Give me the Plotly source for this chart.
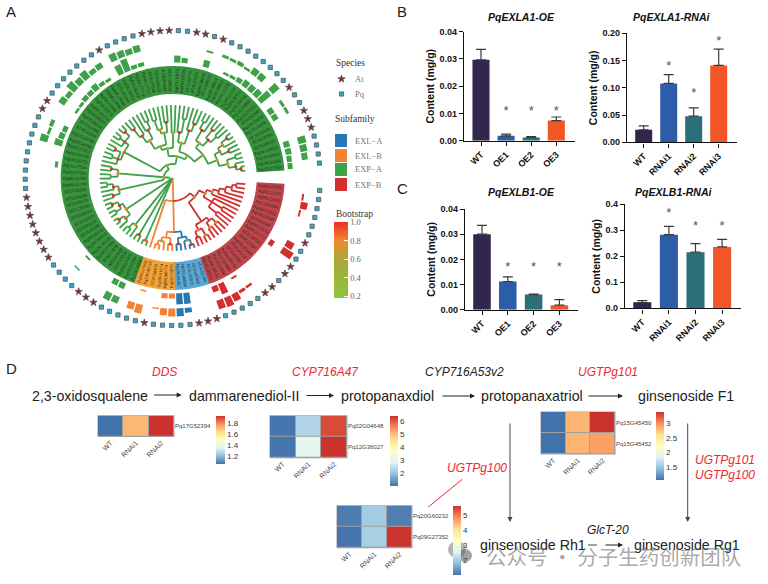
import math
import plotly.graph_objects as go

W, H = 768, 584
def X(p): return p / W
def Y(p): return 1 - p / H

# ---------- Panel A data ----------
leaf_labels = [
 "Pq15G27566","Pq14G41444","Pq14G40058","Pq14G40056","AT2G40610","AT2G39700","AT3G55500","Pq13G30476","Pq13G30478","AT5G02260",
 "Pq12G25112","Pq12G24880","Pq11G18754","Pq11G18752","Pq10G11230","Pq10G11228","Pq09G38812","Pq09G38814","AT1G69530","Pq08G30010",
 "AT3G15370","AT1G26770","Pq07G20156","Pq07G20154","AT2G28950","AT2G03090","AT5G56320","AT2G37640","Pq06G17712","Pq06G17714",
 "Pq05G36328","Pq05G36330","AT5G05290","Pq04G29940","Pq04G29942","Pq04G12086","Pq03G33172","Pq03G33174","Pq03G08216","Pq03G08218",
 "AT1G62980","AT4G01630","Pq02G44780","Pq02G44782","Pq02G15932","Pq01G56730","Pq01G56732","Pq01G27560","Pq01G27562","Pq06G31192",
 "Pq06G31190","AT5G39280","AT5G39290","AT5G39270","AT5G39300","AT5G39310","AT3G60570","AT3G03220","AT1G20190","Pq20G46122",
 "Pq20G46124","Pq19G38218","Pq18G27906","AT4G17030","AT1G65680","AT4G28250","Pq16G25102","Pq15G10284","Pq15G10286",
 "Pq06G11903","Pq23G46132","AT4G38400","Pq19G11174","Pq08G09774","Pq05G33870",
 "Pq20G44567","Pq22G46080","AT3G45970","AT3G45960","AT5G05280",
 "Pq16G28530","Pq16G28532","Pq11G23804","Pq11G23806","Pq10G09118","AT1G65681","AT2G45110","Pq07G35460","AT4G21080","AT2G20750",
 "Pq09G21172","Pq09G21174","AT3G60580","Pq05G22640","Pq06G23322","Pq23G43684","Pq06G23182","Pq06G23181","Pq06G23183"]
group_sizes = {"EXP-A": 69, "EXL-B": 6, "EXL-A": 5, "EXP-B": 19}
ring_colors = {"EXP-A": "#37933c", "EXL-B": "#f5a136", "EXL-A": "#5aa8d6", "EXP-B": "#bf444b"}
group_colors = {"EXL-A": "#2478b4", "EXL-B": "#f58233", "EXP-A": "#3fa14a", "EXP-B": "#d1302f"}
inner_idx = [0,1,2,3,7,8,10,11,12,13,14,15,16,19,22,23,28,29,30,31,33,34,35,36,37,38,39,42,43,44,47,61,66,67,70,73,74,75,76,80,81,83,90]
inner_h   = [5,5,6,6,6,6,13,8,7,7,5,3,2.5,7,5,7,4,4,13,10,3,4,7,5,5,3,2.5,5,6,8,3,2,6,6,1.5,5,5,11,11,6,11,2,5]
outer_idx = [1,2,3,7,8,10,12,13,14,15,16,17,19,28,29,30,31,33,34,35,36,37,38,39,42,43,44,61,66,67,69,70,72,73,74,75,76,80,81,82,83,84,90,91,95,96,97]
outer_h   = [6,7,8,3,3,9,7,7,2.5,4,3,3,2,7,6,7,8,6,5,9,7,10,5,7,4,3,8,1.5,8,7,7,9,1.5,7,8,8,5,9,10,8,3,2.5,12,8,2,7,2]

# Tree: [node radius, bootstrap (0 = no dot), children...]; L is a tip
L = 0
a = [38,.6,[48,.7,[57,.8,[64,1,[69,1,L,L],L],[66,0,L,L]],[54,.9,[62,1,L,L],[60,.8,L,[67,1,L,L]]]],
     [44,.6,[52,1,[60,0,L,L],[62,1,L,L]],[56,1,L,[64,0,L,L]]]]
b = [36,.7,[50,1,[58,1,L,L],L],[46,1,[60,0,L,L],L]]
c = [45,.6,L,L]
d = [34,.7,[46,.8,[56,1,L,L],[50,.8,L,[60,0,L,L]]],[44,.8,[54,1,[62,0,L,L],L],[52,1,L,[62,1,L,L]]]]
top = [22,.6,[27,.6,a,b],[30,.6,c,d]]
e = [55,.9,[60,1,[66,1,L,L],[66,0,L,L],L],[58,1,[64,1,L,L],[64,0,L,L],L]]
f = [55,.8,[62,1,L,L],[62,0,L,L]]
g = [55,.9,[60,1,[66,0,L,L],L],[62,1,L,L]]
h = [56,.8,[60,1,[66,1,L,L],[66,0,L,L]],[62,.9,[68,1,L,L],L]]
i_ = [60,.8,[66,0,L,L],L]
j = [66,1,L,L]
k = [68,.9,L,L]
green = [3,0,[9,.6,[14,.5,top,e],f,g],h,i_,j,k]
orange = [60,0,[64,.5,[68,0,L,L],L],[66,1,L,L]]
blue = [60,0,[66,1,L,L],[64,.6,L,[69,1,L,L]]]
red_low = [52,0,[58,.7,[64,1,L,L],[66,.6,L,L]],[56,0,[62,.8,L,L],[62,.6,L,L]]]
red_up = [36,.6,[46,0,[56,0,L,L],[58,0,L,L],L],[42,.6,L,[48,0,L,[54,0,L,[60,0,L,[64,0,L,L]]]]]]
rest = [23,0,L,[54,0,orange,blue],[29,.6,red_low,red_up]]
tree = [0,0,green,rest]
TIP_R = 73

# ---------- Panels B, C data ----------
bar_colors = ["#33264d", "#2d5ca8", "#2b6f78", "#f25627"]
panels = [
 dict(title="PqEXLA1-OE", cats=["WT","OE1","OE2","OE3"], vals=[.0297,.0018,.0012,.0074], tops=[.0335,.0024,.0015,.0087],
      stars=[None,.013,.013,.013], ymax=.04, dtick=.01, fmt=".2f",
      px=(464,575,31.7,140.7), first=481, step=25.1, tx=521.7, ty=17),
 dict(title="PqEXLA1-RNAi", cats=["WT","RNAi1","RNAi2","RNAi3"], vals=[.023,.108,.048,.141], tops=[.030,.124,.063,.171],
      stars=[None,.151,.101,.1967], ymax=.2, dtick=.05, fmt=".2f",
      px=(627,736.7,33.3,142.3), first=643.7, step=25, tx=672, ty=17),
 dict(title="PqEXLB1-OE", cats=["WT","OE1","OE2","OE3"], vals=[.030,.0112,.006,.0018], tops=[.0335,.013,.0062,.004],
      stars=[None,.0191,.0191,.0191], ymax=.04, dtick=.01, fmt=".2f",
      px=(465,578,209,309.7), first=482, step=25.8, tx=521, ty=191.7),
 dict(title="PqEXLB1-RNAi", cats=["WT","RNAi1","RNAi2","RNAi3"], vals=[.023,.283,.216,.236], tops=[.030,.315,.249,.265],
      stars=[None,.388,.338,.338], ymax=.4, dtick=.1, fmt=".1f",
      px=(625,740.7,204.3,308.3), first=642.3, step=26.6, tx=674.3, ty=191.7),
]

# ---------- Panel D data ----------
hm_cols = ["WT","RNAi1","RNAi2"]
heatmaps = [
 dict(genes=["Pq17G52394"], z=[[1.05,1.71,1.93]], zr=(1.05,1.93), ticks=[1.2,1.4,1.6,1.8],
      px=(98,174,415.7,436.5), cb=(216,225,416,464)),
 dict(genes=["Pq02G04648","Pq12G36027"], z=[[1.05,2.3,6.2],[1.05,3.0,6.44]], zr=(1.02,6.44), ticks=[2,3,4,5,6],
      px=(270,347,415.7,457.7), cb=(390,398,416,486)),
 dict(genes=["Pq15G45450","Pq15G45452"], z=[[1.07,2.8,3.37],[1.07,2.8,2.9]], zr=(1.07,3.37), ticks=[1.5,2,2.5,3],
      tt=["1.5","2","2.5","3"], px=(541,615,412,454), cb=(656,664,412,480)),
 dict(genes=["Pq20G60232","Pq09G27352"], z=[[1.1,1.95,1.12],[1.03,2.0,5.6]], zr=(1.0,5.62), ticks=[2,3,4,5],
      px=(337,412,505.7,547.7), cb=(453,461,505.7,575)),
]
hm_scale = [[0,"#4272aa"],[1/6,"#91bfdb"],[2/6,"#e0f3f8"],[3/6,"#ffffbf"],[4/6,"#fee090"],[5/6,"#fc8d59"],[1,"#cb322d"]]
boot_scale = [[0,"#8cc63f"],[.5,"#a8a838"],[.75,"#f08a2c"],[1,"#ee2b2b"]]

metabolites = [("2,3-oxidosqualene",89.5,396),("dammarenediol-II",244,396),("protopanaxdiol",387,396),
               ("protopanaxatriol",532,396),("ginsenoside F1",686,396),("ginsenoside Rh1",533,545),("ginsenoside Rg1",687,545)]
enzymes = [("DDS",164.7,372,"#ee2730"),("CYP716A47",325.3,372,"#ee2730"),("CYP716A53v2",464,372,"#222222"),
           ("UGTPg101",608,372,"#ee2730"),("UGTPg100",477,468,"#ee2730"),("UGTPg101",725,460,"#ee2730"),
           ("UGTPg100",725,475,"#ee2730"),("GlcT-20",608,530,"#222222")]
arrows = [(152.7,395,181.7,395,"#222"),(305,395.5,334,395.5,"#222"),(441,396,475,396,"#222"),(587,396,623,396,"#222"),
          (510,422,510,522,"#444"),(687.7,422,687.7,522,"#444"),(604,545,623,545,"#222")]

fig = go.Figure()
annots, shapes = [], []

# ---------- Panel A ----------
N = len(leaf_labels)
START, STEP = 5.8, 3.565
theta = [START + STEP * i for i in range(N)]
groups = [g_ for g_, n in group_sizes.items() for _ in range(n)]
species = ["At" if s.startswith("AT") else "Pq" for s in leaf_labels]

fig.add_trace(go.Barpolar(theta=theta, r=[28]*N, base=[84]*N, width=[STEP+.3]*N,
                          marker=dict(color=[ring_colors[g_] for g_ in groups], line=dict(width=0)), showlegend=False))
fig.add_trace(go.Barpolar(theta=[theta[i] for i in inner_idx], r=inner_h, base=[115.5]*len(inner_h), width=[3.0]*len(inner_h),
                          marker=dict(color=[group_colors[groups[i]] for i in inner_idx], line=dict(width=0)), showlegend=False))
fig.add_trace(go.Barpolar(theta=[theta[i] for i in outer_idx], r=outer_h, base=[130.5]*len(outer_h), width=[3.0]*len(outer_h),
                          marker=dict(color=[group_colors[groups[i]] for i in outer_idx], line=dict(width=0)), showlegend=False))

counter = [0]
segs = {g_: ([], []) for g_ in group_colors}
dots = []
def add_seg(gr, rs, ts):
    segs[gr][0].extend(rs + [None]); segs[gr][1].extend(ts + [None])
def arc(r, t0, t1):
    n = max(2, int(abs(t1 - t0) / 3) + 2)
    return [r] * n, [t0 + (t1 - t0) * i / (n - 1) for i in range(n)]
def walk(node):
    if node == L:
        i = counter[0]; counter[0] += 1
        return theta[i], TIP_R, groups[i]
    r, s, *kids = node
    res = [walk(k_) for k_ in kids]
    ts = [x[0] for x in res]
    t = ts[len(ts) // 2] if len(ts) % 2 else (ts[0] + ts[-1]) / 2
    gs = {x[2] for x in res}
    gr = gs.pop() if len(gs) == 1 else "EXL-B"
    for (tc, rc, gc), k_ in zip(res, kids):
        if r > 0:
            rr, aa = arc(r, t, tc)
            add_seg(gc, rr, aa)
        add_seg(gc, [r, rc], [tc, tc])
    if s:
        dots.append((r, t, s))
    return t, r, gr
walk(tree)
assert counter[0] == N
for gr, (rs, ts) in segs.items():
    fig.add_trace(go.Scatterpolar(r=rs, theta=ts, mode="lines", line=dict(color=group_colors[gr], width=1.8), showlegend=False))
fig.add_trace(go.Scatterpolar(r=[d_[0] for d_ in dots], theta=[d_[1] for d_ in dots], mode="markers", showlegend=False,
    marker=dict(size=3, color=[d_[2] for d_ in dots], colorscale=boot_scale, cmin=.18, cmax=1.0, showscale=True,
        colorbar=dict(x=X(334), xanchor="left", y=Y(260), yanchor="middle", lenmode="pixels", len=76, thicknessmode="pixels",
                      thickness=14, xpad=0, ypad=0, outlinewidth=0, tickvals=[.2,.4,.6,.8,1.0], ticktext=["0.2","0.4","0.6","0.8","1.0"],
                      ticks="inside", ticklen=4, tickcolor="white", tickfont=dict(family="Liberation Serif", size=8.5, color="#666"),
                      ))))
for sp, sym, col in (("At","star","#8a2430"),("Pq","square","#35a9cb")):
    idx = [i for i in range(N) if species[i] == sp]
    fig.add_trace(go.Scatterpolar(r=[147.5]*len(idx), theta=[theta[i] for i in idx], mode="markers", showlegend=False,
        marker=dict(symbol=sym, size=5.5 if sp == "At" else 4.2, color=col, line=dict(color="#555", width=.8))))

fig.update_layout(polar=dict(domain=dict(x=[X(172.7-150), X(172.7+150)], y=[Y(178+150), Y(178-150)]),
                             bgcolor="rgba(0,0,0,0)", barmode="overlay",
                             radialaxis=dict(visible=False, range=[0,150]),
                             angularaxis=dict(visible=False, thetaunit="degrees")))
for i, lab in enumerate(leaf_labels):
    t = theta[i]
    px = 172.7 + 98 * math.cos(math.radians(t)); py = 178 - 98 * math.sin(math.radians(t))
    ang = -t if math.cos(math.radians(t)) >= 0 else 180 - t
    annots.append(dict(text=lab, x=X(px), y=Y(py), xref="paper", yref="paper", showarrow=False, textangle=ang,
                       xanchor="center", yanchor="middle", font=dict(family="Liberation Serif", size=4.5, color="#1c2b1c")))

def txt(s, x, y, size, color="#222", family="Liberation Sans", anchor="center", **kw):
    annots.append(dict(text=s, x=X(x), y=Y(y), xref="paper", yref="paper", showarrow=False, xanchor=anchor, yanchor="middle",
                       font=dict(family=family, size=size, color=color), **kw))

# Legend of panel A
serif = "Liberation Serif"
txt("Species", 334, 63, 9.5, "#333", serif, "left")
txt("At", 353, 79, 8.5, "#777", serif, "left")
txt("Pq", 353, 94, 8.5, "#777", serif, "left")
txt("Subfamily", 333, 119, 9.5, "#333", serif, "left")
txt("Bootstrap", 334, 214, 9.5, "#333", serif, "left")
fig.add_trace(go.Scatter(x=[X(341.5)], y=[Y(79)], xaxis="x9", yaxis="y9", mode="markers", showlegend=False,
    marker=dict(symbol="star", size=5.5, color="#8a2430", line=dict(color="#555", width=.8))))
fig.add_trace(go.Scatter(x=[X(341.5)], y=[Y(94)], xaxis="x9", yaxis="y9", mode="markers", showlegend=False,
    marker=dict(symbol="square", size=4.2, color="#35a9cb", line=dict(color="#555", width=.8))))
fig.update_layout(xaxis9=dict(domain=[0,1], range=[0,1], visible=False, fixedrange=True),
                  yaxis9=dict(domain=[0,1], range=[0,1], visible=False, fixedrange=True))
for (name, y0) in (("EXL-A",134),("EXL-B",149),("EXP-A",163),("EXP-B",178)):
    shapes.append(dict(type="rect", xref="paper", yref="paper", x0=X(335), x1=X(347), y0=Y(y0), y1=Y(y0+13),
                       fillcolor=group_colors[name], line=dict(width=0)))
    txt(name.replace("-", "\u2212"), 353, y0+6.5, 8.5, "#777", serif, "left")

# Panel letters
for s, x, y in (("A",11,12),("B",401.5,12),("C",402,188.5),("D",11,368.5)):
    txt(s, x, y, 15, "#222")

# ---------- Panels B, C ----------
for n, p in enumerate(panels, start=1):
    x0, x1, y0, y1 = p["px"]
    xa, ya = f"x{n}", f"y{n}"
    fig.add_trace(go.Bar(x=p["cats"], y=p["vals"], xaxis=xa, yaxis=ya, width=.68, showlegend=False,
        marker=dict(color=bar_colors, line=dict(width=0)),
        error_y=dict(type="data", symmetric=False, array=[t - v for t, v in zip(p["tops"], p["vals"])],
                     arrayminus=[0]*4, color="#3a3a3a", thickness=1.2, width=5)))
    fig.add_trace(go.Scatter(x=p["cats"], y=p["stars"], xaxis=xa, yaxis=ya, mode="text", text=["*" if s_ else "" for s_ in p["stars"]],
        textposition="bottom center", textfont=dict(family="Liberation Sans", size=13, color="#555"), showlegend=False, cliponaxis=False))
    lo = (x0 - p["first"]) / p["step"]; hi = (x1 - p["first"]) / p["step"]
    fig.update_layout({
        f"xaxis{n}": dict(domain=[X(x0), X(x1)], anchor=ya, type="category", range=[lo, hi], showline=True, linewidth=1.4, linecolor="#111",
                          ticks="outside", ticklen=4, tickwidth=1.4, tickcolor="#111", tickangle=-45,
                          tickfont=dict(family="Liberation Sans", size=9, color="#111", weight="bold"), showgrid=False, zeroline=False),
        f"yaxis{n}": dict(domain=[Y(y1), Y(y0)], anchor=xa, range=[0, p["ymax"]], dtick=p["dtick"], tickformat=p["fmt"], showline=True,
                          linewidth=1.4, linecolor="#111", ticks="outside", ticklen=4, tickwidth=1.4, tickcolor="#111",
                          tickfont=dict(family="Liberation Sans", size=9, color="#111", weight="bold"), showgrid=False, zeroline=False,
                          title=dict(text="Content (mg/g)", standoff=2, font=dict(family="Liberation Sans", size=10.5, color="#111", weight="bold"))),
    })
    annots.append(dict(text=f"<b><i>{p['title']}</i></b>", x=X(p["tx"]), y=Y(p["ty"]), xref="paper", yref="paper", showarrow=False,
                       xanchor="center", yanchor="middle", font=dict(family="Liberation Sans", size=10.5, color="#111")))

# ---------- Panel D ----------
for n, hm in enumerate(heatmaps, start=5):
    x0, x1, y0, y1 = hm["px"]
    c0, c1, c2, c3 = hm["cb"]
    xa, ya = f"x{n}", f"y{n}"
    shapes.append(dict(type="rect", xref="paper", yref="paper", x0=X(x0-.5), x1=X(x1+.5), y0=Y(y0-.5), y1=Y(y1+.5),
                       fillcolor="#a0a0a0", line=dict(width=0), layer="below"))
    fig.add_trace(go.Heatmap(z=hm["z"], x=hm_cols, y=hm["genes"], xaxis=xa, yaxis=ya, zmin=hm["zr"][0], zmax=hm["zr"][1], xgap=1, ygap=1,
        colorscale=hm_scale, colorbar=dict(x=X(c0), xanchor="left", y=Y((c2+c3)/2), yanchor="middle", lenmode="pixels", len=c3-c2,
            thicknessmode="pixels", thickness=c1-c0, xpad=0, ypad=0, outlinewidth=0, tickvals=hm["ticks"],
            ticktext=hm.get("tt", [str(t) for t in hm["ticks"]]), ticks="", tickfont=dict(family="Liberation Sans", size=8, color="#333"))))
    fig.update_layout({
        f"xaxis{n}": dict(domain=[X(x0), X(x1)], anchor=ya, tickangle=-45, ticks="", showgrid=False, zeroline=False,
                          tickfont=dict(family="Liberation Sans", size=7, color="#444")),
        f"yaxis{n}": dict(domain=[Y(y1), Y(y0)], anchor=xa, side="right", autorange="reversed", ticks="", showgrid=False, zeroline=False,
                          tickfont=dict(family="Liberation Sans", size=6, color="#444")),
    })

for s, x, y in metabolites:
    txt(s, x, y, 14.2, "#222")
for s, x, y, col in enzymes:
    txt(f"<i>{s}</i>", x, y, 12, col)
for x0, y0, x1, y1, col in arrows:
    annots.append(dict(text="", x=X(x1), y=Y(y1), xref="paper", yref="paper", ax=x0-x1, ay=y0-y1, axref="pixel", ayref="pixel",
                       showarrow=True, arrowhead=2, arrowsize=1, arrowwidth=1, arrowcolor=col))
shapes.append(dict(type="line", xref="paper", yref="paper", x0=X(462.3), y0=Y(479.3), x1=X(428.3), y1=Y(507), line=dict(color="#ee2730", width=1)))
shapes.append(dict(type="line", xref="paper", yref="paper", x0=X(588), y0=Y(545), x1=X(604), y1=Y(545), line=dict(color="#444", width=1, dash="dash")))

# Watermark
shapes.append(dict(type="circle", xref="paper", yref="paper", x0=X(448), x1=X(466), y0=Y(541), y1=Y(558), fillcolor="rgba(130,130,130,.6)", line=dict(width=0)))
shapes.append(dict(type="circle", xref="paper", yref="paper", x0=X(458), x1=X(472), y0=Y(549), y1=Y(562), fillcolor="rgba(100,100,100,.6)", line=dict(width=0)))
txt("公众号 · 分子生药创新团队", 613.5, 556, 20.5, "rgba(110,110,110,.6)", "Noto Sans CJK SC")

fig.update_layout(width=W, height=H, margin=dict(l=0, r=0, t=0, b=0, autoexpand=False), paper_bgcolor="white", plot_bgcolor="rgba(0,0,0,0)",
                  showlegend=False, annotations=annots, shapes=shapes)
fig.write_html("out.html", config=dict(displayModeBar=False),
               post_script="document.body.style.margin='0';document.body.style.overflow='hidden';")
